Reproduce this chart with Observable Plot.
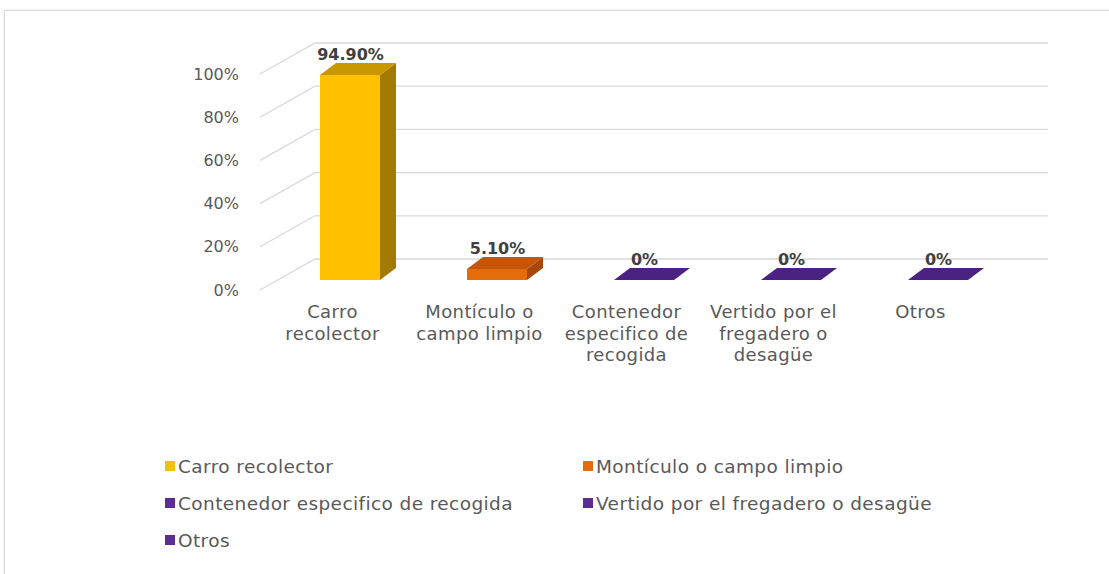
<!DOCTYPE html>
<html>
<head>
<meta charset="utf-8">
<script src="https://cdn.jsdelivr.net/npm/d3@7"></script>
<script src="https://cdn.jsdelivr.net/npm/@observablehq/plot@0.6"></script>
<style>
  html, body { margin: 0; padding: 0; background: #fff; }
  #wrap { position: relative; width: 1109px; height: 574px; overflow: hidden; font-family: "DejaVu Sans", sans-serif; }
  #frame { position: absolute; left: 4px; top: 10px; width: 1120px; height: 600px; border: 1px solid #d9d9d9; box-shadow: 0 0 3px #e6e6e6; pointer-events: none; }
  #chart { position: absolute; left: 0; top: 0; }
  #legend { position: absolute; left: 165px; top: 455px; display: grid; grid-template-columns: 418px 420px; row-gap: 15px; }
  .item { display: flex; align-items: center; font-size: 18.5px; letter-spacing: 0.4px; color: #595959; height: 22px; white-space: nowrap; }
  .sw { width: 10px; height: 10px; margin-right: 3px; flex: none; }
</style>
</head>
<body>
<div id="wrap">
  <div id="frame"></div>
  <div id="chart"></div>
  <div id="legend"></div>
</div>
<script>
// ---- data ----
const categories = [
  "Carro recolector",
  "Montículo o campo limpio",
  "Contenedor especifico de recogida",
  "Vertido por el fregadero o desagüe",
  "Otros"
];
const values = [94.9, 5.1, 0, 0, 0];
const valueLabels = ["94.90%", "5.10%", "0%", "0%", "0%"];
const tickLabels = [
  "Carro\nrecolector",
  "Montículo o\ncampo limpio",
  "Contenedor\nespecifico de\nrecogida",
  "Vertido por el\nfregadero o\ndesagüe",
  "Otros"
];
const yTicks = [0, 20, 40, 60, 80, 100];

// ---- styles ----
const frontColors = ["#FFC000", "#E46C0A", "#5B2C91", "#5B2C91", "#5B2C91"];
const topColors   = ["#C99700", "#C4560C", "#4B2182", "#4B2182", "#4B2182"];
const sideColors  = ["#A37B00", "#A6480A", "#3E1B6E", "#3E1B6E", "#3E1B6E"];

const rows = categories.map((c, i) => ({cat: c, value: values[i], label: valueLabels[i], tick: tickLabels[i], i}));

const W = 1109, H = 430, ML = 243.5, MR = 65;
const depthX = 16, depthY = -12;       // bar extrusion
const wallY = -31;                     // back wall offset from axis front edge

function grid(index, scales, values, dims) {
  const g = d3.create("svg:g").attr("stroke", "#d9d9d9").attr("stroke-width", 1.3).attr("fill", "none");
  const frontX = dims.marginLeft + 16.5;
  const backX = frontX + 55;
  const rightX = dims.width - dims.marginRight + 4;
  for (const t of yTicks) {
    const yf = scales.y(t) + 10;
    const yb = yf + wallY;
    g.append("path").attr("d", `M${frontX},${yf}L${backX},${yb}L${rightX},${yb}`);
  }
  return g.node();
}

function boxes(index, scales, values, dims) {
  const g = d3.create("svg:g");
  const bw = typeof scales.x.bandwidth === "function" ? scales.x.bandwidth() : 61;
  for (const d of rows) {
    const x0 = scales.x(d.cat), x1 = x0 + bw;
    const yb = scales.y(0), yt = scales.y(d.value);
    if (yb - yt > 0.5) {
      g.append("path").attr("fill", sideColors[d.i])
        .attr("d", `M${x1},${yt}L${x1 + depthX},${yt + depthY}L${x1 + depthX},${yb + depthY}L${x1},${yb}Z`);
    }
    g.append("path").attr("fill", topColors[d.i])
      .attr("d", `M${x0},${yt}L${x0 + depthX},${yt + depthY}L${x1 + depthX},${yt + depthY}L${x1},${yt}Z`);
  }
  return g.node();
}

const chart = Plot.plot({
  width: W,
  height: H,
  marginLeft: ML,
  marginRight: MR,
  marginTop: 20,
  marginBottom: 40,
  style: {fontFamily: "DejaVu Sans", fontSize: "16px", color: "#595959", background: "transparent"},
  x: {domain: categories, range: [ML, W - MR], paddingInner: 0.59, paddingOuter: 0.5, axis: null},
  y: {domain: [0, 100], range: [280, 64], axis: null},
  marks: [
    grid,
    Plot.axisY(yTicks, {
      anchor: "left",
      tickSize: 0,
      tickPadding: 5,
      dy: 10,
      tickFormat: d => d + "%",
      fontSize: 16,
      fill: "#595959",
      label: null
    }),
    boxes,
    Plot.barY(rows, {x: "cat", y: "value", fill: d => frontColors[d.i]}),
    Plot.text(rows, {
      x: "cat", y: "value", text: "label",
      dy: -21, fontWeight: "bold", fontSize: 16, fill: "#404040"
    }),
    Plot.text(rows, {
      x: "cat", y: () => 0, text: "tick",
      dx: -18, dy: 23, lineAnchor: "top", lineHeight: 1.17,
      fontSize: 18, fill: "#595959"
    })
  ]
});
document.getElementById("chart").appendChild(chart);

// slightly widen category label lettering (Calibri-like width)
const tickLines = new Set(tickLabels.flatMap(t => t.split("\n")));
chart.querySelectorAll("text").forEach(t => {
  const first = t.querySelector("tspan");
  const content = first ? first.textContent : t.textContent;
  if (tickLines.has(content)) t.style.letterSpacing = "0.4px";
});

// ---- legend ----
const legend = document.getElementById("legend");
categories.forEach((c, i) => {
  const it = document.createElement("div");
  it.className = "item";
  const sw = document.createElement("span");
  sw.className = "sw";
  sw.style.background = frontColors[i] === "#FFC000" ? "#F2C200" : frontColors[i];
  const tx = document.createElement("span");
  tx.textContent = c;
  it.appendChild(sw);
  it.appendChild(tx);
  legend.appendChild(it);
});
</script>
</body>
</html>
